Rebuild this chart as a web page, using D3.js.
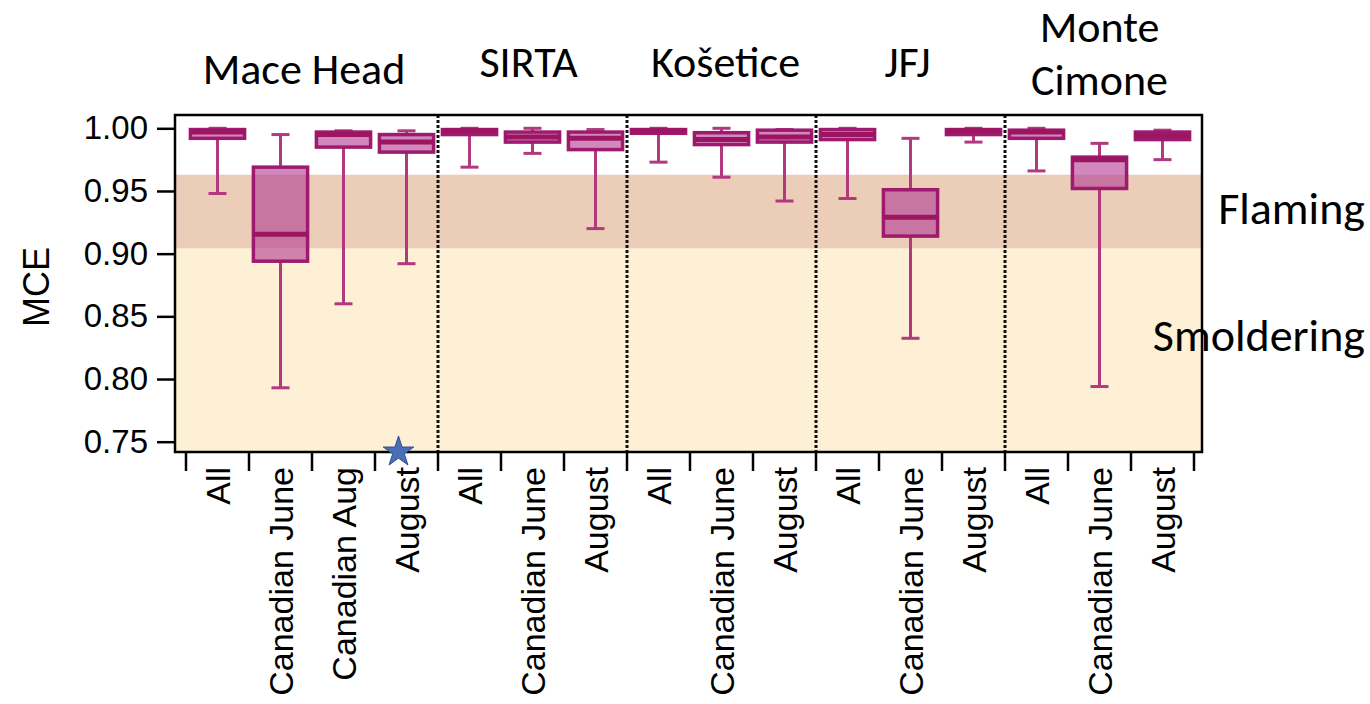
<!DOCTYPE html>
<html>
<head>
<meta charset="utf-8">
<script src="https://cdn.jsdelivr.net/npm/d3@7"></script>
<style>
  body { margin: 0; background: #fff; }
  svg { display: block; }
</style>
</head>
<body>
<div id="chart"></div>
<script>
// stations (groups) and their categories
const stations = ["Mace Head", "SIRTA", "Košetice", "JFJ", "Monte Cimone"];
const stationSize = [4, 3, 3, 3, 3];
const categories = ["All", "Canadian June", "Canadian Aug", "August",
                    "All", "Canadian June", "August",
                    "All", "Canadian June", "August",
                    "All", "Canadian June", "August",
                    "All", "Canadian June", "August"];

// box statistics
const whiskerLow  = [0.948, 0.793, 0.860, 0.892, 0.969, 0.980, 0.920, 0.973, 0.961, 0.942, 0.944, 0.8325, 0.989, 0.966, 0.794, 0.975];
const q1          = [0.992, 0.894, 0.985, 0.981, 0.995, 0.989, 0.983, 0.996, 0.987, 0.989, 0.991, 0.914, 0.995, 0.992, 0.952, 0.991];
const median      = [0.997, 0.9155, 0.995, 0.989, 0.998, 0.993, 0.992, 0.998, 0.991, 0.993, 0.995, 0.929, 0.998, 0.997, 0.975, 0.994];
const q3          = [0.999, 0.969, 0.997, 0.995, 0.999, 0.997, 0.997, 0.999, 0.9965, 0.9985, 0.999, 0.951, 0.999, 0.9985, 0.977, 0.997];
const whiskerHigh = [1.000, 0.995, 0.998, 0.998, 1.000, 1.000, 0.999, 1.000, 1.000, 0.999, 1.000, 0.992, 1.000, 1.000, 0.988, 0.9985];

// MCE regimes
const regimes = [
  {name: "Flaming", lo: 0.904, hi: 0.963},
  {name: "Smoldering", lo: 0.70, hi: 0.904}
];
const yTicks = [0.75, 0.80, 0.85, 0.90, 0.95, 1.00];

const width = 1370, height = 704;
const frame = {left: 175, right: 1202, top: 115, bottom: 452};

const svg = d3.select("#chart").append("svg")
  .attr("width", width).attr("height", height);

const y = d3.scaleLinear().domain([0.75, 1.00]).range([441.7, 128.3]);
const x = d3.scaleBand().domain(d3.range(categories.length)).range([186, 1194]).padding(0);

const plot = svg.append("g");
plot.append("clipPath").attr("id", "clip")
  .append("rect").attr("x", frame.left).attr("y", frame.top)
  .attr("width", frame.right - frame.left).attr("height", frame.bottom - frame.top);

// background bands
const bandColor = {"Flaming": "#ebcdb8", "Smoldering": "#fdf0d4"};
plot.append("g").attr("clip-path", "url(#clip)")
  .selectAll("rect").data(regimes).enter().append("rect")
  .attr("x", frame.left)
  .attr("width", frame.right - frame.left)
  .attr("y", d => y(d.hi))
  .attr("height", d => y(d.lo) - y(d.hi))
  .attr("fill", d => bandColor[d.name]);

// dotted separators between stations
const starts = Array.from(d3.cumsum(stationSize));
const groupStart = [0].concat(starts.slice(0, -1));
plot.selectAll("line.sep").data(groupStart.slice(1)).enter().append("line")
  .attr("class", "sep")
  .attr("x1", d => x(d)).attr("x2", d => x(d))
  .attr("y1", frame.top).attr("y2", frame.bottom)
  .attr("stroke", "#111").attr("stroke-width", 3)
  .attr("stroke-dasharray", "3,2");

// box plots
const boxW = x.bandwidth() * 0.86;
const capW = 18;
const idx = d3.range(categories.length);
const cx = i => x(i) + x.bandwidth() / 2;
const whiskerColor = "#b2387f";
const boxStroke = "#9e1a6e";

const boxes = plot.append("g").selectAll("g").data(idx).enter().append("g");

boxes.append("line")
  .attr("x1", cx).attr("x2", cx)
  .attr("y1", i => y(whiskerHigh[i])).attr("y2", i => y(q3[i]))
  .attr("stroke", whiskerColor).attr("stroke-width", 3);
boxes.append("line")
  .attr("x1", cx).attr("x2", cx)
  .attr("y1", i => y(q1[i])).attr("y2", i => y(whiskerLow[i]))
  .attr("stroke", whiskerColor).attr("stroke-width", 3);
boxes.append("line")
  .attr("x1", i => cx(i) - capW / 2).attr("x2", i => cx(i) + capW / 2)
  .attr("y1", i => y(whiskerHigh[i])).attr("y2", i => y(whiskerHigh[i]))
  .attr("stroke", whiskerColor).attr("stroke-width", 3);
boxes.append("line")
  .attr("x1", i => cx(i) - capW / 2).attr("x2", i => cx(i) + capW / 2)
  .attr("y1", i => y(whiskerLow[i])).attr("y2", i => y(whiskerLow[i]))
  .attr("stroke", whiskerColor).attr("stroke-width", 3);

boxes.append("rect")
  .attr("x", i => cx(i) - boxW / 2)
  .attr("width", boxW)
  .attr("y", i => y(q3[i]))
  .attr("height", i => y(q1[i]) - y(q3[i]))
  .attr("fill", "#b43f95").attr("fill-opacity", 0.62)
  .attr("stroke", boxStroke).attr("stroke-width", 3.5);

boxes.append("line")
  .attr("x1", i => cx(i) - boxW / 2).attr("x2", i => cx(i) + boxW / 2)
  .attr("y1", i => y(median[i])).attr("y2", i => y(median[i]))
  .attr("stroke", "#9c1560").attr("stroke-width", 5);

// frame
plot.append("rect")
  .attr("x", frame.left).attr("y", frame.top)
  .attr("width", frame.right - frame.left).attr("height", frame.bottom - frame.top)
  .attr("fill", "none").attr("stroke", "#000").attr("stroke-width", 2.5);

// y axis
const yAxis = d3.axisLeft(y).tickValues(yTicks).tickFormat(d3.format(".2f"))
  .tickSize(18).tickPadding(9);
svg.append("g")
  .attr("transform", `translate(${frame.left},0)`)
  .call(yAxis)
  .call(g => g.select(".domain").remove())
  .call(g => g.selectAll(".tick line").attr("stroke", "#000").attr("stroke-width", 2.5))
  .call(g => g.selectAll(".tick text")
    .attr("font-family", "'Liberation Sans', Arial, sans-serif")
    .attr("font-size", 33).attr("fill", "#000"));

svg.append("text")
  .attr("transform", "translate(36,287) rotate(-90)")
  .attr("text-anchor", "middle").attr("dy", "0.35em")
  .attr("font-family", "'Liberation Sans', Arial, sans-serif")
  .attr("font-size", 36)
  .text("MCE");

// x axis: ticks on category boundaries, labels rotated
const xTickPos = d3.range(categories.length + 1).map(i => 186 + i * x.step());
svg.append("g").selectAll("line").data(xTickPos).enter().append("line")
  .attr("x1", d => d).attr("x2", d => d)
  .attr("y1", frame.bottom).attr("y2", frame.bottom + 19)
  .attr("stroke", "#000").attr("stroke-width", 2.5);

svg.append("g").selectAll("text").data(idx).enter().append("text")
  .attr("transform", i => `translate(${cx(i)},467) rotate(-90)`)
  .attr("text-anchor", "end").attr("dy", "0.36em")
  .attr("font-family", "'Liberation Sans', Arial, sans-serif")
  .attr("font-size", 34)
  .text(i => categories[i]);

// station titles
const titleFont = "Carlito, Calibri, Lato, 'Open Sans', sans-serif";
const titleY = [84, 77, 77, 77, 42];
const titleDx = [-8, -4, 4, -3, 0];
stations.forEach((s, k) => {
  const mid = (x(groupStart[k]) + x(groupStart[k] + stationSize[k] - 1) + x.bandwidth()) / 2 + titleDx[k];
  const t = svg.append("text")
    .attr("x", mid).attr("y", titleY[k])
    .attr("text-anchor", "middle")
    .attr("font-family", titleFont).attr("font-size", 44);
  const words = s === "Monte Cimone" ? ["Monte", "Cimone"] : [s];
  words.forEach((w, j) => {
    t.append("tspan").attr("x", mid).attr("dy", j === 0 ? 0 : 53).text(w);
  });
});

// regime labels
const regimeLabelY = {"Flaming": 224, "Smoldering": 351};
svg.selectAll("text.regime").data(regimes).enter().append("text")
  .attr("class", "regime")
  .attr("x", 1365).attr("y", d => regimeLabelY[d.name])
  .attr("text-anchor", "end")
  .attr("font-family", titleFont).attr("font-size", 46)
  .text(d => d.name);

// star marker on the x axis
svg.append("path")
  .attr("d", d3.symbol().type(d3.symbolStar).size(290))
  .attr("transform", `translate(${cx(3) - 8},${frame.bottom})`)
  .attr("fill", "#4a6fb5").attr("stroke", "#2f4f8f").attr("stroke-width", 1);
</script>
</body>
</html>
